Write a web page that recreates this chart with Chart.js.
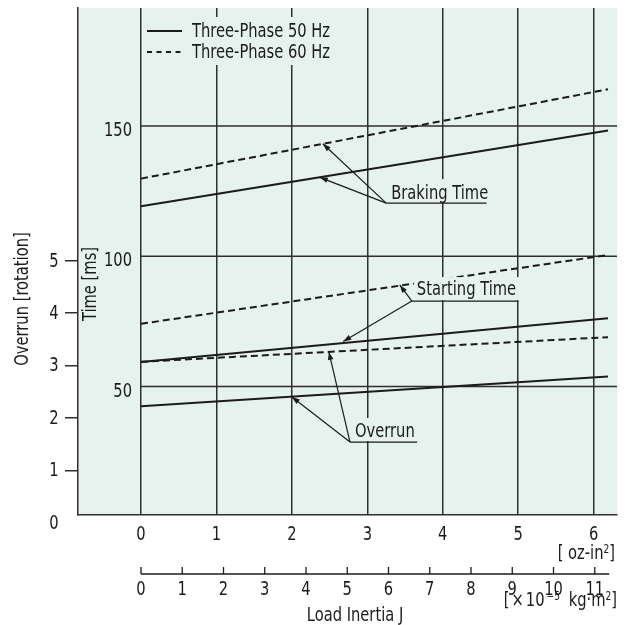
<!DOCTYPE html>
<html>
<head>
<meta charset="utf-8">
<script src="https://cdn.jsdelivr.net/npm/chart.js@4.4.1/dist/chart.umd.min.js"></script>
<style>
html, body { margin: 0; padding: 0; background: #fff; }
</style>
</head>
<body>
<canvas id="graph" width="629" height="625" style="width:629px;height:625px;display:block"></canvas>
<script>
// values
const inertiaOz = [0, 6.19];            // load inertia [oz-in2], start / end of each line
const braking50 = [119.2, 148.3];       // ms
const braking60 = [129.8, 164.1];       // ms
const starting50 = [59.4, 76.2];        // ms
const starting60 = [74.1, 100.5];       // ms
const overrun50 = [2.22, 2.79];         // rotation
const overrun60 = [3.07, 3.54];         // rotation

const ozTicks = [0, 1, 2, 3, 4, 5, 6];
const kgTicks = [0, 1, 2, 3, 4, 5, 6, 7, 8, 9, 10, 11];
const timeTicks = [50, 100, 150];
const overrunTicks = [1, 2, 3, 4, 5];
const overrunLabels = [0, 1, 2, 3, 4, 5];
const OZ_TO_KG = 1.829; // 1 oz-in2 = 1.829 x10^-5 kg-m2

const FONT = "'Liberation Sans Narrow', 'DejaVu Sans Condensed', sans-serif";
const FS = 19;
const SQUEEZE = 0.86; // the original lettering is a condensed face
const INK = '#1b1b1b';
const GRID = '#2e2e2e';
const BG = '#e6f2ee';

const font = (s) => s + 'px ' + FONT;

// callouts: label anchor + arrow tips, in data units
const notes = [
    { text: 'Braking Time', from: [3.25, 120.4, 'y'], end: 4.58, base: 4, tips: [[2.41, 143.2, 'y'], [2.37, 130.3, 'y']] },
    { text: 'Starting Time', from: [3.59, 82.8, 'y'], end: 5.0, base: 6, tips: [[3.43, 89.0, 'y'], [2.68, 67.3, 'y']] },
    { text: 'Overrun', from: [2.77, 28.7, 'y'], end: 3.66, base: 5, tips: [[2.0, 2.40, 'y2'], [2.49, 3.26, 'y2']] }
];

const pts = (arr) => inertiaOz.map((x, i) => ({ x: x, y: arr[i] }));

const textWidth = (ctx, s, size) => {
    ctx.font = font(size || FS);
    return ctx.measureText(s).width * SQUEEZE;
};

// condensed text
const label = (ctx, s, x, y, align, size, rot) => {
    ctx.save();
    ctx.translate(x, y);
    if (rot) ctx.rotate(rot);
    ctx.scale(SQUEEZE, 1);
    ctx.font = font(size || FS);
    ctx.textAlign = align || 'left';
    ctx.fillText(s, 0, 0);
    ctx.restore();
};

const drawRich = (ctx, parts, right, base) => {
    const sup = FS * 0.62;
    const wOf = p => textWidth(ctx, p.t, p.sup ? sup : FS) + (p.gap || 0);
    let w = 0;
    parts.forEach(p => { w += wOf(p); });
    let x = right - w;
    parts.forEach(p => {
        label(ctx, p.t, x, p.sup ? base - FS * 0.33 : base, 'left', p.sup ? sup : FS);
        x += wOf(p);
    });
};

const arrow = (ctx, x1, y1, x2, y2) => {
    ctx.beginPath();
    ctx.moveTo(x1, y1);
    ctx.lineTo(x2, y2);
    ctx.stroke();
    const a = Math.atan2(y2 - y1, x2 - x1);
    const len = 8, hw = 2.8;
    ctx.beginPath();
    ctx.moveTo(x2, y2);
    ctx.lineTo(x2 - len * Math.cos(a) + hw * Math.sin(a), y2 - len * Math.sin(a) - hw * Math.cos(a));
    ctx.lineTo(x2 - len * Math.cos(a) - hw * Math.sin(a), y2 - len * Math.sin(a) + hw * Math.cos(a));
    ctx.closePath();
    ctx.fill();
};

const decor = {
    id: 'decor',
    beforeDraw(chart) {
        const { ctx, chartArea: a } = chart;
        ctx.save();
        ctx.fillStyle = BG;
        ctx.fillRect(a.left, a.top, a.right - a.left, a.bottom - a.top);
        ctx.restore();
    },
    beforeDatasetsDraw(chart) {
        // time grid lines start at the 0 oz-in2 line
        const { ctx, chartArea: a, scales } = chart;
        const x0 = scales.x.getPixelForValue(0);
        ctx.save();
        ctx.strokeStyle = GRID;
        ctx.lineWidth = 1.5;
        timeTicks.forEach(v => {
            const y = scales.y.getPixelForValue(v);
            ctx.beginPath();
            ctx.moveTo(x0, y);
            ctx.lineTo(a.right, y);
            ctx.stroke();
        });
        ctx.restore();
    },
    afterDatasetsDraw(chart) {
        const { ctx, scales } = chart;
        ctx.save();
        ctx.fillStyle = INK;
        ctx.strokeStyle = INK;
        ctx.textBaseline = 'alphabetic';

        // legend
        const w1 = textWidth(ctx, 'Three-Phase 60 Hz');
        ctx.fillStyle = BG;
        ctx.fillRect(144, 17, w1 + 56, 48);
        ctx.fillStyle = INK;
        ctx.lineWidth = 2;
        ctx.beginPath(); ctx.moveTo(147, 31); ctx.lineTo(182, 31); ctx.stroke();
        ctx.setLineDash([5, 4.5]);
        ctx.beginPath(); ctx.moveTo(147, 52); ctx.lineTo(184, 52); ctx.stroke();
        ctx.setLineDash([]);
        label(ctx, 'Three-Phase 50 Hz', 192, 37);
        label(ctx, 'Three-Phase 60 Hz', 192, 58);

        // callouts
        notes.forEach(n => {
            const x1 = scales.x.getPixelForValue(n.from[0]);
            const y1 = scales[n.from[2]].getPixelForValue(n.from[1]);
            const x2 = scales.x.getPixelForValue(n.end);
            const tw = textWidth(ctx, n.text);
            ctx.fillStyle = BG;
            ctx.fillRect(x1 + 2, y1 - 24, Math.max(tw + 8, x2 - x1 - 2), 23);
            ctx.fillStyle = INK;
            label(ctx, n.text, x1 + 5, y1 - n.base);
            ctx.lineWidth = 1.2;
            ctx.beginPath(); ctx.moveTo(x1, y1); ctx.lineTo(x2, y1); ctx.stroke();
            n.tips.forEach(t => {
                arrow(ctx, x1, y1, scales.x.getPixelForValue(t[0]), scales[t[2]].getPixelForValue(t[1]));
            });
        });
        ctx.restore();
    },
    afterDraw(chart) {
        const { ctx, scales } = chart;
        const x0 = scales.x.getPixelForValue(0);
        ctx.save();
        ctx.fillStyle = INK;
        ctx.strokeStyle = INK;
        ctx.textBaseline = 'alphabetic';

        // tick labels
        timeTicks.forEach(v => label(ctx, String(v), x0 - 9, scales.y.getPixelForValue(v) + 10, 'right'));
        overrunLabels.forEach(v => label(ctx, String(v), 54, scales.y2.getPixelForValue(v) + 6, 'center'));
        ozTicks.forEach(v => label(ctx, String(v), scales.x.getPixelForValue(v), 540, 'center'));

        // axis titles
        ctx.textBaseline = 'middle';
        label(ctx, 'Time [ms]', 91, 284, 'center', FS, -Math.PI / 2);
        label(ctx, 'Overrun [rotation]', 23, 299, 'center', FS, -Math.PI / 2);
        ctx.textBaseline = 'alphabetic';

        // second inertia axis [x10^-5 kg m2]
        const x2 = scales.x2;
        const ya = 574;
        ctx.lineWidth = 1.3;
        ctx.beginPath();
        ctx.moveTo(x2.getPixelForValue(0), ya);
        ctx.lineTo(x2.getPixelForValue(11.35), ya);
        ctx.stroke();
        kgTicks.forEach(v => {
            const px = x2.getPixelForValue(v);
            ctx.beginPath(); ctx.moveTo(px, ya - 7); ctx.lineTo(px, ya); ctx.stroke();
            label(ctx, String(v), px, 595, 'center');
        });

        // units and title
        drawRich(ctx, [{ t: '[ oz-in' }, { t: '2', sup: true }, { t: ']' }], 615, 559);
        drawRich(ctx, [
            { t: '[', gap: 2 }, { t: '\u00d7', gap: 2 }, { t: '10', gap: 2 }, { t: '\u22125', sup: true, gap: 4 },
            { t: ' kg\u00b7m' }, { t: '2', sup: true }, { t: ']' }
        ], 617, 606);
        label(ctx, 'Load Inertia J', 355, 621, 'center');
        ctx.restore();
    }
};

document.addEventListener('DOMContentLoaded', function () {
    Chart.defaults.font.family = FONT;
    Chart.defaults.font.size = FS;
    Chart.defaults.color = INK;

    const graph = document.querySelector('#graph').getContext('2d');
    new Chart(graph, {
        type: 'line',
        data: {
            datasets: [
                { label: 'Braking Time 50 Hz', data: pts(braking50), yAxisID: 'y' },
                { label: 'Braking Time 60 Hz', data: pts(braking60), yAxisID: 'y', borderDash: [7, 4] },
                { label: 'Starting Time 50 Hz', data: pts(starting50), yAxisID: 'y' },
                { label: 'Starting Time 60 Hz', data: pts(starting60), yAxisID: 'y', borderDash: [7, 4] },
                { label: 'Overrun 50 Hz', data: pts(overrun50), yAxisID: 'y2' },
                { label: 'Overrun 60 Hz', data: pts(overrun60), yAxisID: 'y2', borderDash: [7, 4] }
            ]
        },
        options: {
            responsive: false,
            animation: false,
            layout: { padding: { top: 8, right: 12, left: 0, bottom: 0 } },
            elements: {
                point: { radius: 0 },
                line: { borderWidth: 2, borderColor: INK, tension: 0, fill: false }
            },
            plugins: { legend: { display: false }, tooltip: { enabled: false } },
            scales: {
                x: {
                    type: 'linear', position: 'bottom', min: -0.835, max: 6.309,
                    afterBuildTicks: s => { s.ticks = ozTicks.map(v => ({ value: v })); },
                    afterFit: s => { s.height = 110; },
                    grid: { color: GRID, lineWidth: 1.5, drawTicks: false },
                    border: { color: GRID, width: 1.5 },
                    ticks: { display: false }
                },
                x2: {
                    type: 'linear', axis: 'x', position: 'bottom', display: false,
                    min: -0.835 * OZ_TO_KG, max: 6.309 * OZ_TO_KG
                },
                y: {
                    type: 'linear', position: 'left', display: false, min: 0.69, max: 195.3
                },
                y2: {
                    type: 'linear', position: 'left', min: 0.147, max: 9.82,
                    afterBuildTicks: s => { s.ticks = overrunTicks.map(v => ({ value: v })); },
                    afterFit: s => { s.width = 78; },
                    grid: { drawOnChartArea: false, color: GRID, lineWidth: 1.5, tickLength: 13 },
                    border: { color: GRID, width: 1.5 },
                    ticks: { display: false }
                }
            }
        },
        plugins: [decor]
    });
});
</script>
</body>
</html>
